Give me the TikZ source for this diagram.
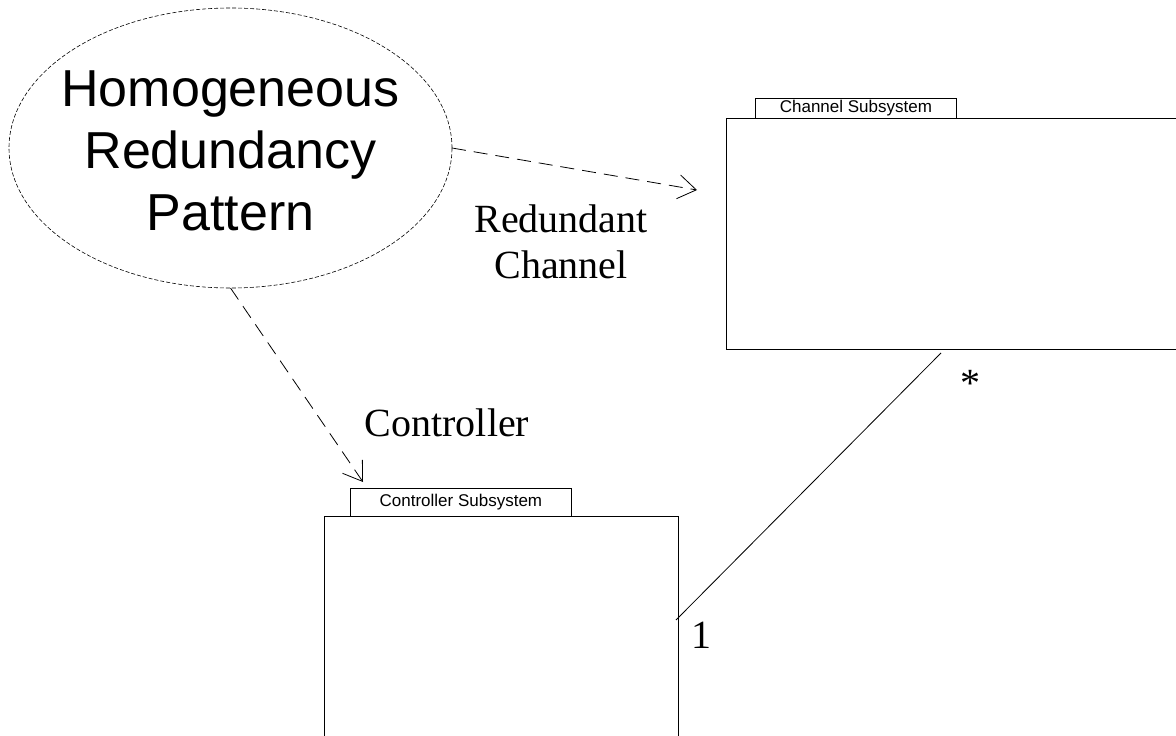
\documentclass[tikz,border=0pt]{standalone}
\usepackage{fontspec}
\setmainfont{Liberation Serif}
\setsansfont{Liberation Sans}
\usetikzlibrary{arrows.meta,shapes.geometric}
\begin{document}
\begin{tikzpicture}[x=1pt,y=-1pt,
  thinline/.style={draw=black,line width=0.8pt},
  dep/.style={thinline,dash pattern=on 14pt off 8pt,-{Straight Barb[length=18pt,width=24pt,line width=0.8pt]}},
  boxshape/.style={thinline,rectangle,inner sep=0pt,anchor=north west},
  tabshape/.style={thinline,rectangle,inner sep=0pt,anchor=north west,font=\sffamily\fontsize{17}{19}\selectfont},
  rolelabel/.style={font=\fontsize{40}{46}\selectfont,align=center,inner sep=0pt}
]
\useasboundingbox (0,0) rectangle (1176,736);
\fill[white] (0,0) rectangle (1176,736);

% Pattern ellipse
\node[ellipse,draw=black,line width=0.6pt,dash pattern=on 4pt off 2pt,
      minimum width=443pt,minimum height=280pt,inner sep=0pt,outer sep=0pt] (pat) at (230.5,148) {};
\node[font=\sffamily\fontsize{52}{62}\selectfont,align=center,inner sep=0pt] (pattext) at (230.5,151)
      {Homogeneous\\Redundancy\\Pattern};

% Channel subsystem
\node[boxshape,minimum width=452pt,minimum height=231pt] (chan) at (726,118) {};
\node[tabshape,minimum width=201pt,minimum height=20pt] (chantab) at (755,98) {Channel Subsystem};

% Controller subsystem
\node[boxshape,minimum width=354pt,minimum height=230pt] (ctrl) at (324,516) {};
\node[tabshape,minimum width=221pt,minimum height=28pt] (ctrltab) at (350,488) {Controller Subsystem};

% Dependency arrows
\coordinate (chanend) at (697,190);
\coordinate (ctrlend) at (363,482);
\draw[dep] (pat.east) -- (chanend);
\draw[dep] (pat.south) -- (ctrlend);

% Association
\coordinate (assocA) at (676,620);
\coordinate (assocB) at (941,353);
\draw[thinline] (assocA) -- (assocB);

% Labels
\node[rolelabel] (lblred) at (561,242) {Redundant\\Channel};
\node[rolelabel,anchor=base] (lblctrl) at (447,436) {Controller};
\node[rolelabel,anchor=base] (lblstar) at (970,396) {*};
\node[rolelabel,anchor=base] (lblone) at (701,648) {1};
\end{tikzpicture}
\end{document}
